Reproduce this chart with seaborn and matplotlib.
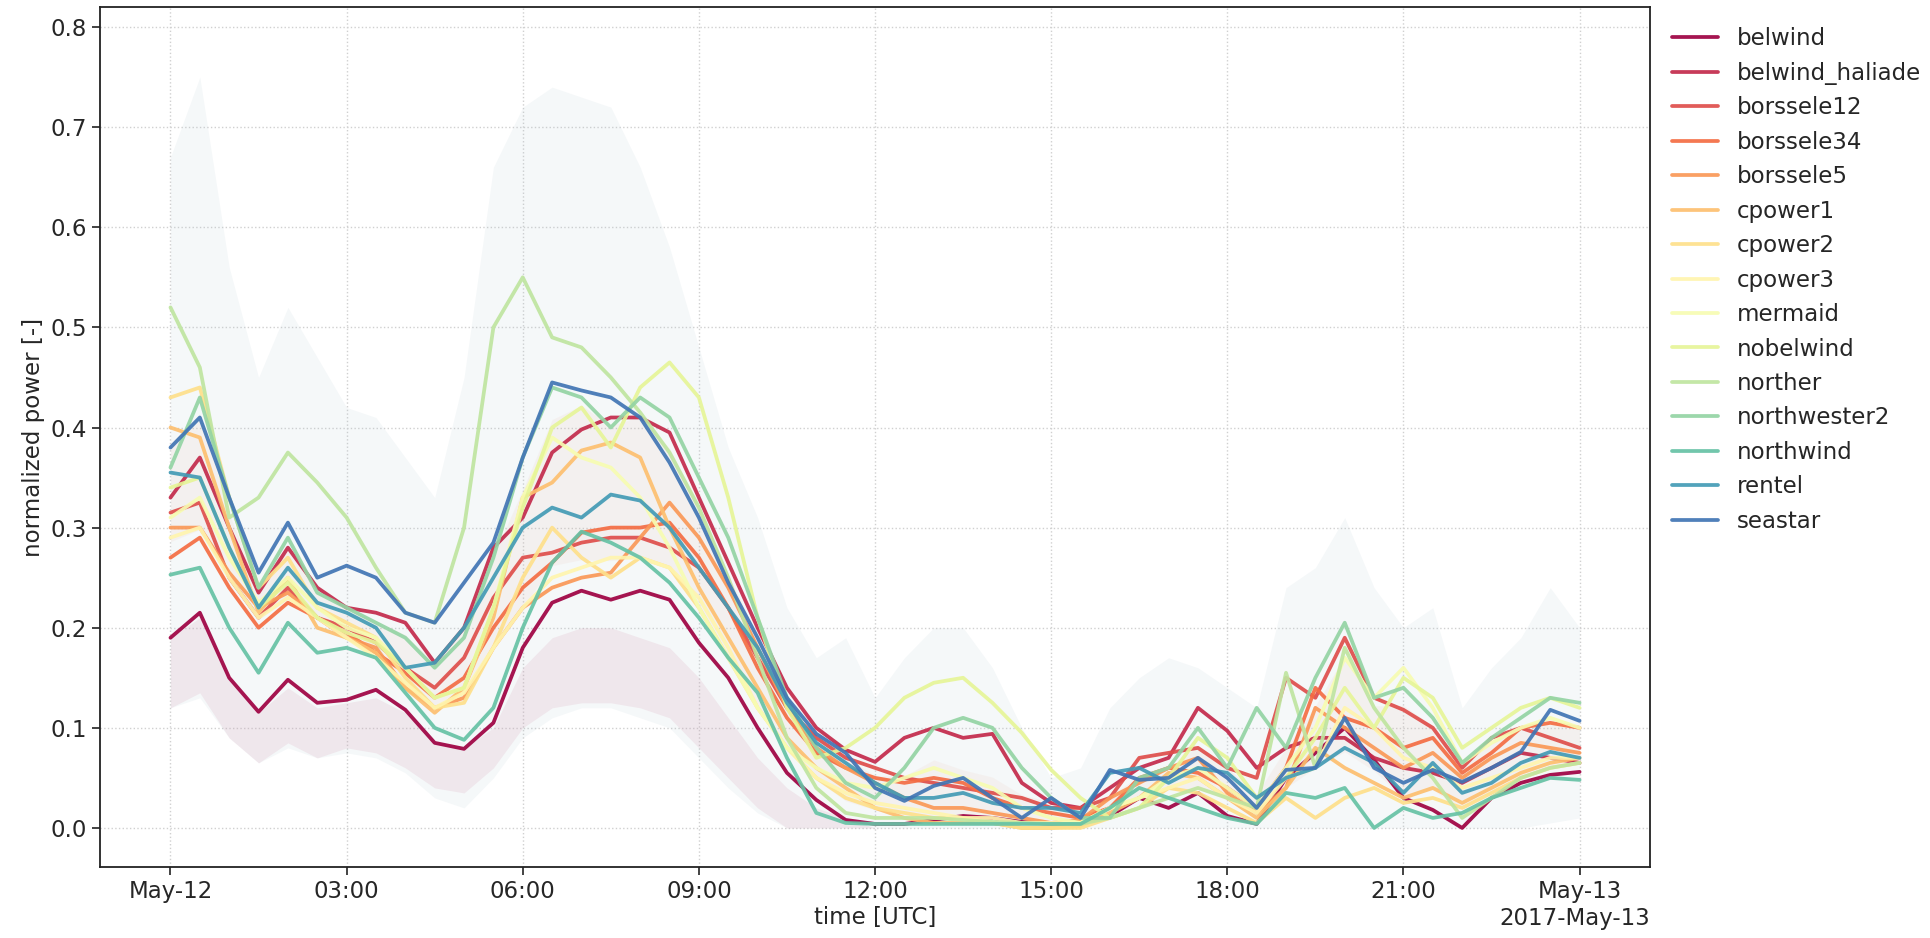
import numpy as np
import pandas as pd
import matplotlib
matplotlib.use("Agg")
import matplotlib.pyplot as plt
import matplotlib.dates as mdates
import seaborn as sns

# Half-hourly normalized power per wind farm, 2017-05-12 00:00 .. 2017-05-13 00:00
times = pd.date_range("2017-05-12 00:00", periods=49, freq="30min")

farms = ["belwind", "belwind_haliade", "borssele12", "borssele34", "borssele5",
         "cpower1", "cpower2", "cpower3", "mermaid", "nobelwind", "norther",
         "northwester2", "northwind", "rentel", "seastar"]

belwind = [0.19, 0.215, 0.15, 0.116, 0.148, 0.125, 0.128, 0.138, 0.118, 0.085, 0.079, 0.105,
           0.18, 0.225, 0.237, 0.228, 0.237, 0.228, 0.185, 0.15, 0.10, 0.055, 0.028, 0.008,
           0.004, 0.004, 0.008, 0.012, 0.01, 0.006, 0.004, 0.004, 0.012, 0.03, 0.02, 0.035,
           0.012, 0.004, 0.05, 0.075, 0.10, 0.068, 0.03, 0.018, 0.0, 0.03, 0.045, 0.053, 0.056]
belwind_haliade = [0.33, 0.37, 0.30, 0.235, 0.28, 0.24, 0.22, 0.215, 0.205, 0.165, 0.20, 0.28,
                   0.31, 0.375, 0.398, 0.41, 0.41, 0.395, 0.33, 0.265, 0.20, 0.14, 0.10, 0.078,
                   0.066, 0.09, 0.10, 0.09, 0.094, 0.045, 0.025, 0.02, 0.04, 0.06, 0.07, 0.12,
                   0.097, 0.06, 0.08, 0.09, 0.09, 0.07, 0.06, 0.055, 0.045, 0.06, 0.075, 0.07, 0.065]
borssele12 = [0.315, 0.325, 0.25, 0.21, 0.24, 0.21, 0.20, 0.185, 0.16, 0.14, 0.17, 0.23,
              0.27, 0.275, 0.285, 0.29, 0.29, 0.28, 0.26, 0.22, 0.17, 0.12, 0.09, 0.07,
              0.06, 0.05, 0.045, 0.04, 0.035, 0.03, 0.02, 0.02, 0.03, 0.07, 0.075, 0.08,
              0.06, 0.05, 0.15, 0.13, 0.19, 0.13, 0.118, 0.10, 0.06, 0.09, 0.10, 0.09, 0.08]
borssele34 = [0.27, 0.29, 0.24, 0.20, 0.225, 0.21, 0.195, 0.175, 0.155, 0.13, 0.15, 0.20,
              0.24, 0.265, 0.295, 0.30, 0.30, 0.305, 0.27, 0.22, 0.16, 0.11, 0.075, 0.06,
              0.05, 0.045, 0.05, 0.045, 0.03, 0.02, 0.015, 0.01, 0.02, 0.05, 0.06, 0.055,
              0.04, 0.02, 0.06, 0.14, 0.11, 0.10, 0.08, 0.09, 0.055, 0.075, 0.10, 0.105, 0.10]
borssele5 = [0.30, 0.30, 0.255, 0.22, 0.235, 0.21, 0.19, 0.18, 0.14, 0.12, 0.13, 0.18,
             0.22, 0.24, 0.25, 0.255, 0.29, 0.325, 0.29, 0.24, 0.18, 0.12, 0.08, 0.06,
             0.045, 0.03, 0.02, 0.02, 0.015, 0.01, 0.005, 0.008, 0.03, 0.045, 0.06, 0.07,
             0.035, 0.015, 0.04, 0.12, 0.10, 0.08, 0.06, 0.075, 0.05, 0.07, 0.085, 0.08, 0.075]
cpower1 = [0.40, 0.39, 0.30, 0.215, 0.25, 0.20, 0.19, 0.175, 0.14, 0.115, 0.14, 0.21,
           0.33, 0.345, 0.377, 0.385, 0.37, 0.30, 0.24, 0.19, 0.14, 0.09, 0.06, 0.04,
           0.02, 0.01, 0.005, 0.005, 0.005, 0.0, 0.0, 0.002, 0.015, 0.03, 0.055, 0.05,
           0.03, 0.01, 0.04, 0.08, 0.06, 0.045, 0.03, 0.04, 0.025, 0.04, 0.055, 0.065, 0.07]
cpower2 = [0.43, 0.44, 0.33, 0.24, 0.27, 0.22, 0.205, 0.19, 0.15, 0.12, 0.125, 0.18,
           0.25, 0.30, 0.27, 0.25, 0.27, 0.26, 0.22, 0.17, 0.12, 0.08, 0.05, 0.03,
           0.02, 0.015, 0.01, 0.01, 0.005, 0.0, 0.0, 0.0, 0.01, 0.02, 0.04, 0.035,
           0.02, 0.005, 0.03, 0.01, 0.03, 0.04, 0.025, 0.03, 0.02, 0.035, 0.05, 0.06, 0.065]
cpower3 = [0.29, 0.30, 0.25, 0.21, 0.23, 0.21, 0.19, 0.17, 0.145, 0.12, 0.135, 0.18,
           0.22, 0.25, 0.26, 0.27, 0.27, 0.26, 0.23, 0.18, 0.12, 0.08, 0.05, 0.035,
           0.025, 0.02, 0.015, 0.01, 0.01, 0.005, 0.005, 0.005, 0.02, 0.03, 0.04, 0.05,
           0.03, 0.015, 0.05, 0.06, 0.12, 0.10, 0.07, 0.06, 0.04, 0.05, 0.06, 0.07, 0.07]
mermaid = [0.31, 0.33, 0.27, 0.225, 0.25, 0.22, 0.20, 0.19, 0.16, 0.13, 0.14, 0.22,
           0.33, 0.39, 0.37, 0.36, 0.33, 0.28, 0.22, 0.17, 0.12, 0.08, 0.06, 0.045,
           0.04, 0.05, 0.06, 0.05, 0.04, 0.02, 0.01, 0.005, 0.02, 0.03, 0.05, 0.06,
           0.04, 0.02, 0.06, 0.10, 0.17, 0.13, 0.16, 0.12, 0.065, 0.085, 0.10, 0.11, 0.10]
nobelwind = [0.34, 0.35, 0.28, 0.22, 0.245, 0.21, 0.195, 0.185, 0.16, 0.13, 0.14, 0.22,
             0.32, 0.40, 0.42, 0.38, 0.44, 0.465, 0.43, 0.33, 0.21, 0.12, 0.07, 0.08,
             0.10, 0.13, 0.145, 0.15, 0.125, 0.095, 0.058, 0.03, 0.01, 0.02, 0.05, 0.09,
             0.07, 0.03, 0.05, 0.09, 0.14, 0.10, 0.15, 0.13, 0.08, 0.10, 0.12, 0.13, 0.12]
norther = [0.52, 0.46, 0.31, 0.33, 0.375, 0.345, 0.31, 0.26, 0.215, 0.205, 0.30, 0.50,
           0.55, 0.49, 0.48, 0.45, 0.415, 0.375, 0.32, 0.25, 0.17, 0.09, 0.04, 0.015,
           0.01, 0.01, 0.01, 0.008, 0.006, 0.005, 0.004, 0.004, 0.01, 0.02, 0.03, 0.04,
           0.03, 0.02, 0.155, 0.06, 0.18, 0.12, 0.08, 0.05, 0.01, 0.03, 0.05, 0.06, 0.065]
northwester2 = [0.36, 0.43, 0.33, 0.24, 0.29, 0.235, 0.22, 0.205, 0.19, 0.16, 0.19, 0.27,
                0.37, 0.44, 0.43, 0.40, 0.43, 0.41, 0.35, 0.29, 0.21, 0.13, 0.08, 0.045,
                0.03, 0.06, 0.10, 0.11, 0.10, 0.06, 0.03, 0.01, 0.01, 0.05, 0.06, 0.10,
                0.06, 0.12, 0.08, 0.15, 0.205, 0.13, 0.14, 0.11, 0.065, 0.09, 0.11, 0.13, 0.125]
northwind = [0.253, 0.26, 0.20, 0.155, 0.205, 0.175, 0.18, 0.17, 0.135, 0.10, 0.088, 0.12,
             0.20, 0.265, 0.296, 0.285, 0.27, 0.245, 0.21, 0.17, 0.135, 0.07, 0.015, 0.005,
             0.004, 0.004, 0.004, 0.004, 0.004, 0.004, 0.004, 0.004, 0.02, 0.04, 0.03, 0.02,
             0.01, 0.004, 0.035, 0.03, 0.04, 0.0, 0.02, 0.01, 0.015, 0.03, 0.04, 0.05, 0.048]
rentel = [0.355, 0.35, 0.28, 0.22, 0.26, 0.225, 0.215, 0.20, 0.16, 0.165, 0.20, 0.25,
          0.30, 0.32, 0.31, 0.333, 0.327, 0.30, 0.26, 0.22, 0.18, 0.125, 0.085, 0.065,
          0.045, 0.03, 0.03, 0.035, 0.025, 0.02, 0.02, 0.015, 0.055, 0.06, 0.045, 0.06,
          0.055, 0.03, 0.05, 0.06, 0.08, 0.065, 0.035, 0.065, 0.035, 0.045, 0.065, 0.076, 0.07]
seastar = [0.38, 0.41, 0.33, 0.255, 0.305, 0.25, 0.262, 0.25, 0.215, 0.205, 0.245, 0.285,
           0.37, 0.445, 0.437, 0.43, 0.41, 0.365, 0.31, 0.245, 0.19, 0.13, 0.094, 0.075,
           0.04, 0.027, 0.042, 0.05, 0.03, 0.01, 0.03, 0.01, 0.058, 0.048, 0.05, 0.07,
           0.05, 0.02, 0.058, 0.06, 0.11, 0.06, 0.045, 0.058, 0.046, 0.06, 0.076, 0.118, 0.107]

series = [belwind, belwind_haliade, borssele12, borssele34, borssele5, cpower1, cpower2,
          cpower3, mermaid, nobelwind, norther, northwester2, northwind, rentel, seastar]

# Envelope of all ensemble members (faint background spread)
members_high = [0.67, 0.75, 0.56, 0.45, 0.52, 0.47, 0.42, 0.41, 0.37, 0.33, 0.45, 0.66,
                0.72, 0.74, 0.73, 0.72, 0.66, 0.58, 0.48, 0.38, 0.31, 0.22, 0.17, 0.19,
                0.13, 0.17, 0.20, 0.20, 0.16, 0.10, 0.05, 0.06, 0.12, 0.15, 0.17, 0.16,
                0.14, 0.12, 0.24, 0.26, 0.31, 0.24, 0.20, 0.22, 0.12, 0.16, 0.19, 0.24, 0.20]
members_low = [0.12, 0.13, 0.09, 0.065, 0.08, 0.07, 0.075, 0.07, 0.055, 0.03, 0.02, 0.05,
               0.09, 0.11, 0.12, 0.12, 0.11, 0.10, 0.07, 0.04, 0.015, 0.0, 0.0, 0.0,
               0.0, 0.0, 0.0, 0.0, 0.0, 0.0, 0.0, 0.0, 0.0, 0.0, 0.0, 0.0,
               0.0, 0.0, 0.0, 0.0, 0.0, 0.0, 0.0, 0.0, 0.0, 0.0, 0.0, 0.005, 0.01]
# Spread of the belwind members (pinkish lower band)
belwind_members_high = [0.19, 0.21, 0.15, 0.115, 0.14, 0.12, 0.125, 0.13, 0.115, 0.085, 0.08, 0.10,
                        0.16, 0.19, 0.20, 0.20, 0.19, 0.18, 0.15, 0.11, 0.07, 0.04, 0.02, 0.01,
                        0.0, 0.0, 0.0, 0.0, 0.0, 0.0, 0.0, 0.0, 0.0, 0.0, 0.0, 0.0,
                        0.0, 0.0, 0.0, 0.0, 0.0, 0.0, 0.0, 0.0, 0.0, 0.0, 0.0, 0.0, 0.0]
belwind_members_low = [0.12, 0.135, 0.09, 0.065, 0.085, 0.07, 0.08, 0.075, 0.06, 0.04, 0.035, 0.06,
                       0.10, 0.12, 0.125, 0.125, 0.12, 0.11, 0.08, 0.05, 0.02, 0.0, 0.0, 0.0,
                       0.0, 0.0, 0.0, 0.0, 0.0, 0.0, 0.0, 0.0, 0.0, 0.0, 0.0, 0.0,
                       0.0, 0.0, 0.0, 0.0, 0.0, 0.0, 0.0, 0.0, 0.0, 0.0, 0.0, 0.0, 0.0]

df = pd.DataFrame({"time": np.tile(times, len(farms)),
                   "farm": np.repeat(farms, len(times)),
                   "power": np.concatenate(series)})

sns.set_theme(style="ticks")
plt.rcParams["font.family"] = ["DejaVu Sans"]

fig = plt.figure(figsize=(19.31, 9.38), dpi=100)
ax = fig.add_axes([0.0518, 0.0757, 0.8027, 0.9168])

cmap = matplotlib.colormaps["Spectral"]
palette = [cmap(i / len(farms)) for i in range(len(farms))]

# faint ensemble spread
ax.fill_between(times, members_low, members_high, color="#b4cad4", alpha=0.13, lw=0, zorder=1)
ax.fill_between(times, belwind_members_low, belwind_members_high, color="#d79ab2", alpha=0.18,
                lw=0, zorder=1)
arr = np.array(series)
ax.fill_between(times, np.percentile(arr, 20, axis=0), np.percentile(arr, 80, axis=0),
                color="#e8a98f", alpha=0.09, lw=0, zorder=1)

sns.lineplot(data=df, x="time", y="power", hue="farm", hue_order=farms, palette=palette,
             linewidth=2.7, alpha=0.92, ax=ax, zorder=3)

ax.grid(True, linestyle=":", color="#d0d0d0", linewidth=1.0, zorder=0)
ax.set_axisbelow(True)

locator = mdates.HourLocator(byhour=range(0, 24, 3))
formatter = mdates.ConciseDateFormatter(
    locator,
    formats=["%Y", "%b", "%b-%d", "%H:%M", "%H:%M", "%S.%f"],
    zero_formats=["", "%Y", "%b", "%b-%d", "%H:%M", "%H:%M"],
    offset_formats=["", "%Y", "%Y-%b", "%Y-%b-%d", "%Y-%b-%d", "%Y-%b-%d %H:%M"])
ax.xaxis.set_major_locator(locator)
ax.xaxis.set_major_formatter(formatter)
ax.xaxis.get_offset_text().set_fontsize(16.5)

ax.set_ylim(-0.039, 0.82)
ax.set_yticks([0.0, 0.1, 0.2, 0.3, 0.4, 0.5, 0.6, 0.7, 0.8])
ax.set_xlabel("time [UTC]", fontsize=16.5, labelpad=2)
ax.set_ylabel("normalized power [-]", fontsize=16.5)
ax.tick_params(axis="both", labelsize=16.5, length=6, width=1.2, color="#222222")
for s in ax.spines.values():
    s.set_color("#222222")
    s.set_linewidth(1.3)

handles, labels = ax.get_legend_handles_labels()
leg = ax.legend(handles, labels, loc="upper left", bbox_to_anchor=(1.004, 0.995),
                frameon=False, fontsize=16.5, handlelength=2.0, labelspacing=0.5,
                borderaxespad=0.3)
for ln in leg.get_lines():
    ln.set_linewidth(2.7)

fig.savefig("out.png", dpi=100)
